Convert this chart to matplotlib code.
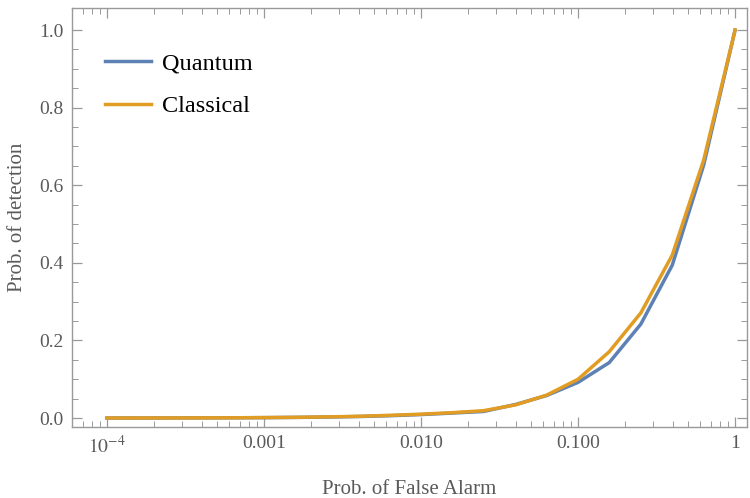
import numpy as np
import matplotlib.pyplot as plt
from matplotlib.ticker import FixedLocator, NullFormatter

plt.rcParams['font.family'] = ['Liberation Serif', 'DejaVu Serif']
plt.rcParams['mathtext.fontset'] = 'stix'

# false alarm probabilities (log-spaced sweep)
p_fa = [1e-4, 1.6e-4, 2.5e-4, 4e-4, 6.3e-4, 0.001, 0.0016, 0.0025, 0.004, 0.0063,
        0.01, 0.016, 0.025, 0.04, 0.063, 0.1, 0.158, 0.251, 0.398, 0.631, 1.0]
pd_quantum = [0.0001, 0.0002, 0.0003, 0.0005, 0.0007, 0.0011, 0.0017, 0.0026, 0.004, 0.006,
              0.009, 0.013, 0.017, 0.035, 0.058, 0.092, 0.143, 0.242, 0.394, 0.652, 1.0]
pd_classical = [0.0001, 0.0002, 0.0003, 0.0005, 0.0007, 0.0012, 0.0019, 0.003, 0.0045, 0.007,
                0.010, 0.014, 0.019, 0.034, 0.059, 0.100, 0.171, 0.271, 0.420, 0.665, 1.0]

xticks = [1e-4, 1e-3, 1e-2, 1e-1, 1]
xtick_labels = [r'$10^{-4}$', '0.001', '0.010', '0.100', '1']
yticks = [0.0, 0.2, 0.4, 0.6, 0.8, 1.0]

blue = '#5e81b5'
orange = '#e19c24'
grey = '#999999'
text_grey = '#5a5a5a'

fig = plt.figure(figsize=(7.5, 4.98), dpi=100)
ax = fig.add_axes([0.096, 0.1426, 0.9, 0.8414])

ax.plot(p_fa, pd_quantum, color=blue, lw=2.5, label='Quantum')
ax.plot(p_fa, pd_classical, color=orange, lw=2.5, label='Classical')

ax.set_xscale('log')
ax.set_xlim(10**-4.223, 10**0.076)
ax.set_ylim(-0.023, 1.057)

ax.set_xticks(xticks)
ax.set_xticklabels(xtick_labels)
minors = [m * 10.0**d for d in range(-5, 1) for m in range(2, 10)]
ax.xaxis.set_minor_locator(FixedLocator(minors))
ax.xaxis.set_minor_formatter(NullFormatter())
ax.set_yticks(yticks)
ax.set_yticklabels([f'{v:.1f}' for v in yticks])
ax.yaxis.set_minor_locator(FixedLocator(np.arange(0, 1.05, 0.05)))

ax.tick_params(which='both', direction='in', top=True, right=True, color=grey,
               labelcolor=text_grey, labelsize=14, pad=6)
ax.tick_params(which='major', length=7, width=0.9)
ax.tick_params(which='minor', length=4, width=0.7)
for s in ax.spines.values():
    s.set_color(grey)
    s.set_linewidth(1.0)

ax.set_xlabel('Prob. of False Alarm', color=text_grey, fontsize=15, labelpad=16)
ax.set_ylabel('Prob. of detection', color=text_grey, fontsize=15, labelpad=9)

leg = ax.legend(loc='upper left', frameon=False, fontsize=17.5, handlelength=1.9,
                bbox_to_anchor=(0.049, 0.893), borderpad=0, borderaxespad=0,
                labelspacing=0.85, handletextpad=0.45)

fig.savefig('out.png', dpi=100)
